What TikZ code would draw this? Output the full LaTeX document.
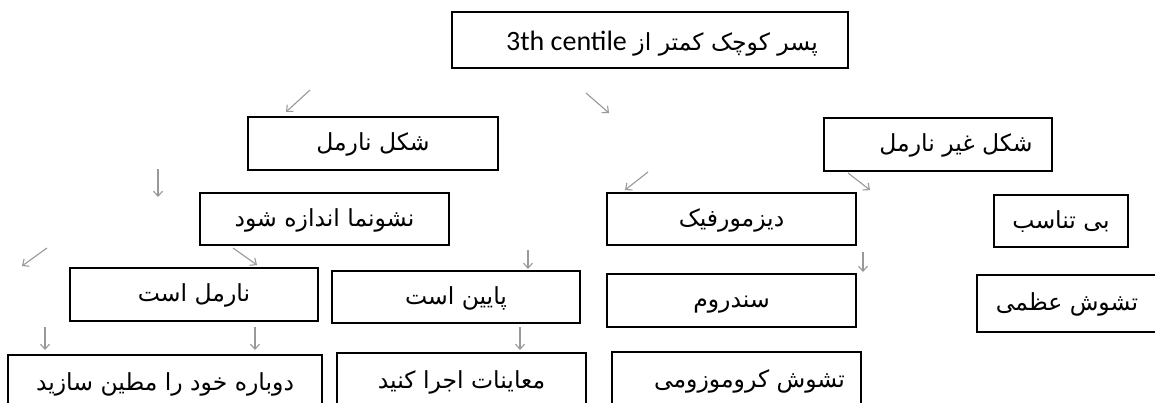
\documentclass[tikz,border=0pt]{standalone}
\usepackage{fontspec}
\setmainfont{Liberation Sans}
\newfontfamily\arabicfont[Script=Arabic]{DejaVu Sans}
\newfontfamily\latinfont{Carlito}
\TeXXeTstate=1
\usetikzlibrary{arrows.meta}
\newcommand{\artxt}[1]{{\arabicfont\beginR #1\endR}}
\tikzset{
  box/.style={draw=black, line width=1.4pt, inner sep=0pt, fill=white,
    text height=17pt, text depth=3pt,
    font=\fontsize{23.5}{26}\selectfont},
  garrow/.style={draw=black!40, line width=1.1pt,
    -{Straight Barb[length=5pt,width=9pt,line width=1.1pt]}},
}
\begin{document}
\begin{tikzpicture}[x=1pt,y=-1pt]
\useasboundingbox (0,0) rectangle (1155,402);
\clip (0,0) rectangle (1155,402);
\fill[white] (0,0) rectangle (1155,402);

% boxes
\node[box, minimum width=396pt, minimum height=56pt, text height=20pt, text depth=0pt] (top) at (650,40)
  {\hspace*{24pt}{\latinfont\fontsize{28}{30}\selectfont 3th centile}\ \artxt{پسر کوچک کمتر از}};
\node[box, minimum width=250pt, minimum height=53pt] (norm) at (373,143.5) {\artxt{شکل نارمل}};
\node[box, minimum width=228pt, minimum height=53pt] (abn) at (938,144.5) {\hspace*{36pt}\artxt{شکل غیر نارمل}};
\node[box, minimum width=249pt, minimum height=52pt] (meas) at (324.5,219) {\artxt{نشونما اندازه شود}};
\node[box, minimum width=249pt, minimum height=52pt] (dys) at (731.5,219) {\artxt{دیزمورفیک}};
\node[box, minimum width=134pt, minimum height=52pt] (disp) at (1061,221) {\artxt{بی تناسب}};
\node[box, minimum width=248pt, minimum height=53pt] (isn) at (194,294.5) {\artxt{نارمل است}};
\node[box, minimum width=248pt, minimum height=52pt] (low) at (456,297) {\artxt{پایین است}};
\node[box, minimum width=249pt, minimum height=53pt] (syn) at (731.5,300.5) {\artxt{سندروم}};
\node[box, minimum width=200pt, minimum height=57pt] (skel) at (1077,303.5) {\hspace*{-20pt}\artxt{تشوش عظمی}};
\node[box, minimum width=314pt, minimum height=56pt] (again) at (165,383) {\artxt{دوباره خود را مطین سازید}};
\node[box, minimum width=249pt, minimum height=56pt] (exam) at (461.5,381) {\artxt{معاینات اجرا کنید}};
\node[box, minimum width=249pt, minimum height=56pt] (chrom) at (736.5,380) {\hspace*{26pt}\artxt{تشوش کروموزومی}};

% arrow end points
\coordinate (a1s) at (310,90);  \coordinate (a1e) at (286,112);
\coordinate (a2s) at (586,93);  \coordinate (a2e) at (609,113);
\coordinate (a3s) at (158,169); \coordinate (a3e) at (158,197);
\coordinate (a4s) at (648,172); \coordinate (a4e) at (625,190);
\coordinate (a5s) at (848,173); \coordinate (a5e) at (870,190);
\coordinate (a6s) at (47,248);  \coordinate (a6e) at (22,266);
\coordinate (a7s) at (233,248); \coordinate (a7e) at (257,265);
\coordinate (a8s) at (528,250); \coordinate (a8e) at (528,269);
\coordinate (a9s) at (863,252); \coordinate (a9e) at (863,272);
\coordinate (a10s) at (45,327); \coordinate (a10e) at (45,350);
\coordinate (a11s) at (255,327); \coordinate (a11e) at (255,350);
\coordinate (a12s) at (520,327); \coordinate (a12e) at (520,350);

\foreach \i in {1,...,12} \draw[garrow] (a\i s) -- (a\i e);
\end{tikzpicture}
\end{document}
